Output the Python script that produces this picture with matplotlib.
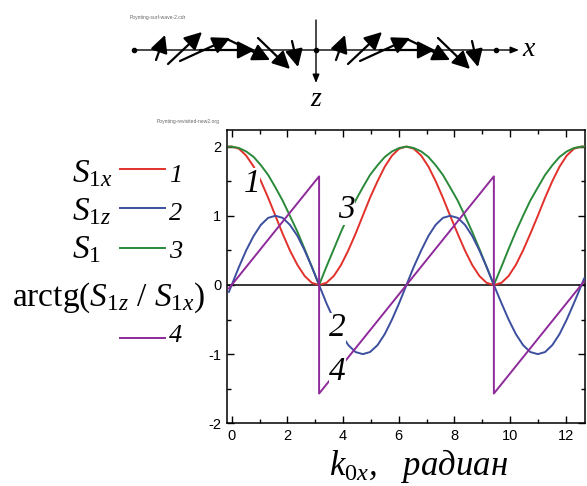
import matplotlib
matplotlib.use('Agg')
import matplotlib.pyplot as plt
from matplotlib.patches import FancyArrowPatch
from matplotlib.ticker import MultipleLocator

plt.rcParams['font.family'] = 'Liberation Serif'
plt.rcParams['mathtext.fontset'] = 'custom'
plt.rcParams['mathtext.rm'] = 'Liberation Serif'
plt.rcParams['mathtext.it'] = 'Liberation Serif:italic'
plt.rcParams['axes.unicode_minus'] = False

# ── data ──
k_x = [-0.10, 0.00, 0.26, 0.52, 0.79, 1.05, 1.31, 1.57, 1.83, 2.09, 2.36, 2.62, 2.88,
       3.14, 3.40, 3.67, 3.93, 4.19, 4.45, 4.71, 4.97, 5.24, 5.50, 5.76, 6.02, 6.28,
       6.54, 6.81, 7.07, 7.33, 7.59, 7.85, 8.12, 8.38, 8.64, 8.90, 9.16, 9.42, 9.69,
       9.95, 10.21, 10.47, 10.73, 11.00, 11.26, 11.52, 11.78, 12.04, 12.30, 12.57, 12.66]
s1x = [2.00, 2.00, 1.97, 1.87, 1.71, 1.50, 1.26, 1.00, 0.74, 0.50, 0.29, 0.13, 0.03,
       0.00, 0.03, 0.13, 0.29, 0.50, 0.74, 1.00, 1.26, 1.50, 1.71, 1.87, 1.97, 2.00,
       1.97, 1.87, 1.71, 1.50, 1.26, 1.00, 0.74, 0.50, 0.29, 0.13, 0.03, 0.00, 0.03,
       0.13, 0.29, 0.50, 0.74, 1.00, 1.26, 1.50, 1.71, 1.87, 1.97, 2.00, 2.00]
s1z = [-0.10, 0.00, 0.26, 0.50, 0.71, 0.87, 0.97, 1.00, 0.97, 0.87, 0.71, 0.50, 0.26,
       0.00, -0.26, -0.50, -0.71, -0.87, -0.97, -1.00, -0.97, -0.87, -0.71, -0.50, -0.26, 0.00,
       0.26, 0.50, 0.71, 0.87, 0.97, 1.00, 0.97, 0.87, 0.71, 0.50, 0.26, 0.00, -0.26,
       -0.50, -0.71, -0.87, -0.97, -1.00, -0.97, -0.87, -0.71, -0.50, -0.26, 0.00, 0.09]
s1 = [2.00, 2.00, 1.98, 1.93, 1.85, 1.73, 1.59, 1.41, 1.22, 1.00, 0.77, 0.52, 0.26,
      0.00, 0.26, 0.52, 0.77, 1.00, 1.22, 1.41, 1.59, 1.73, 1.85, 1.93, 1.98, 2.00,
      1.98, 1.93, 1.85, 1.73, 1.59, 1.41, 1.22, 1.00, 0.77, 0.52, 0.26, 0.00, 0.26,
      0.52, 0.77, 1.00, 1.22, 1.41, 1.59, 1.73, 1.85, 1.93, 1.98, 2.00, 2.00]
phase_x = [-0.10, 3.14, 3.14, 9.42, 9.42, 12.66]
phase = [-0.05, 1.57, -1.57, 1.57, -1.57, 0.05]

series_names = [r'$S_{1x}$', r'$S_{1z}$', r'$S_1$', r'arctg($S_{1z}$ / $S_{1x}$)']
series_nums = ['1', '2', '3', '4']
colors = ['#e2312b', '#3b4f9e', '#2a8a3a', '#8e2a9a']

# schematic arrows (pixel coords, one half period; second half shifted)
arrow_tails = [(156, 60), (168, 64), (180, 61), (200, 50), (227, 39), (258, 38), (292, 41)]
arrow_heads = [(165, 35), (202, 32), (230, 38), (255, 50), (270, 60), (290, 69), (298, 67)]
half_shift = [0, 180]

W, H = 587, 486
fig = plt.figure(figsize=(W / 100, H / 100), dpi=100)
fig.patch.set_facecolor('white')

# ── main plot ──
ax = fig.add_axes([226.7 / W, 1 - 423.3 / H, (585 - 226.7) / W, (423.3 - 130) / H])
ax.set_xlim(-0.18, 12.695)
ax.set_ylim(-2, 2.24)
ax.axhline(0, color='black', lw=1.1, zorder=1)
ax.plot(k_x, s1x, color=colors[0], lw=1.4, zorder=3)
ax.plot(k_x, s1, color=colors[2], lw=1.4, zorder=3)
ax.plot(k_x, s1z, color=colors[1], lw=1.4, zorder=3)
ax.plot(phase_x, phase, color=colors[3], lw=1.4, zorder=3)

ax.xaxis.set_major_locator(MultipleLocator(2))
ax.xaxis.set_minor_locator(MultipleLocator(1))
ax.yaxis.set_major_locator(MultipleLocator(1))
ax.yaxis.set_minor_locator(MultipleLocator(0.5))
ax.tick_params(which='both', direction='in', top=True, right=True, width=1)
ax.tick_params(which='major', length=5, labelsize=10.5, pad=4)
ax.tick_params(which='minor', length=3)
for lab in ax.get_xticklabels() + ax.get_yticklabels():
    lab.set_family('Liberation Sans')
for sp in ax.spines.values():
    sp.set_linewidth(1.1)

label_pos = [(0.72, 1.47), (3.79, -0.62), (4.13, 1.08), (3.79, -1.25)]
for num, (lx, ly) in zip(series_nums, label_pos):
    ax.text(lx, ly, num, fontsize=24, style='italic', ha='center', va='center', zorder=5,
            bbox=dict(boxstyle='square,pad=0.0', facecolor='white', edgecolor='none'))

fig.text(419 / W, 1 - 475 / H, r'$k_{0x}$,   радиан', fontsize=25, style='italic',
         ha='center', va='baseline')

# ── legend on the left ──
ov = fig.add_axes([0, 0, 1, 1], zorder=10)
ov.set_xlim(0, W)
ov.set_ylim(H, 0)
ov.axis('off')
ov.patch.set_alpha(0)

leg_line_y = [169, 208, 248, 338]
leg_base_y = [182, 220, 258, 342]
for i in range(4):
    ov.plot([120, 165], [leg_line_y[i]] * 2, color=colors[i], lw=1.4)
    ov.text(169, leg_base_y[i], series_nums[i], fontsize=19, style='italic',
            ha='left', va='baseline')
for i in range(3):
    ov.text(72, leg_base_y[i], series_names[i], fontsize=24, ha='left', va='baseline')
ov.text(12, 306, series_names[3], fontsize=24, ha='left', va='baseline')

# ── schematic of the Poynting vector ──
ov.text(130, 17, 'Poynting-surf-wave-2.cdr', fontsize=3.6, color='#666666',
        family='Liberation Sans', va='center')
ov.text(157, 121, 'Poynting-revisited-new2.org', fontsize=3.6, color='#666666',
        family='Liberation Sans', va='center')

ov.add_patch(FancyArrowPatch((134, 50), (519, 50), arrowstyle='-|>,head_length=0.5,head_width=0.2',
                             mutation_scale=10, lw=1.0, color='black', shrinkA=0, shrinkB=0))
ov.add_patch(FancyArrowPatch((316, 20), (316, 83), arrowstyle='-|>,head_length=0.5,head_width=0.2',
                             mutation_scale=10, lw=1.0, color='black', shrinkA=0, shrinkB=0))
ov.plot([134, 316, 496], [50, 50, 50], 'o', color='black', ms=3)
ov.text(522, 50, 'x', fontsize=20, style='italic', ha='left', va='center')
ov.text(316, 99, 'z', fontsize=20, style='italic', ha='center', va='center')

for dx in half_shift:
    for (tx, ty), (hx, hy) in zip(arrow_tails, arrow_heads):
        ov.add_patch(FancyArrowPatch((tx + dx, ty), (hx + dx, hy),
                                     arrowstyle='-|>,head_length=0.75,head_width=0.38',
                                     mutation_scale=14, lw=1.6, color='black',
                                     shrinkA=0, shrinkB=0))

plt.savefig('out.png', dpi=100, facecolor='white')
plt.close()
